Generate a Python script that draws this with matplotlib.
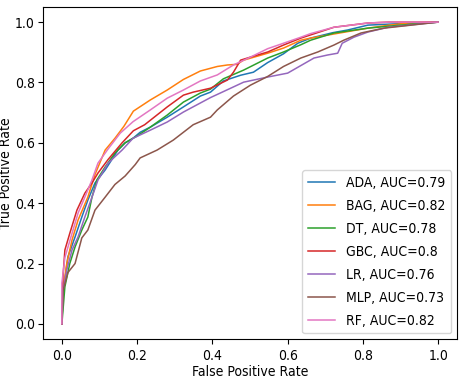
import matplotlib
matplotlib.use("Agg")
import matplotlib.pyplot as plt

plt.rcParams["font.family"] = ["DejaVu Sans"]
plt.rcParams["font.stretch"] = "condensed"

labels = ["ADA, AUC=0.79", "BAG, AUC=0.82", "DT, AUC=0.78", "GBC, AUC=0.8",
          "LR, AUC=0.76", "MLP, AUC=0.73", "RF, AUC=0.82"]
colors = ["#1f77b4", "#ff7f0e", "#2ca02c", "#d62728", "#9467bd", "#8c564b", "#e377c2"]

ada_fpr = [0, 0.003, 0.016, 0.035, 0.053, 0.069, 0.088, 0.115, 0.149, 0.168, 0.189, 0.208, 0.235, 0.28, 0.323, 0.368, 0.395, 0.429, 0.475, 0.509, 0.547, 0.589, 0.627, 0.661, 0.72, 0.76, 0.813, 0.9, 1.0]
ada_tpr = [0, 0.10, 0.222, 0.288, 0.354, 0.41, 0.467, 0.51, 0.576, 0.60, 0.615, 0.635, 0.652, 0.685, 0.719, 0.755, 0.768, 0.805, 0.824, 0.834, 0.866, 0.895, 0.93, 0.947, 0.965, 0.974, 0.99, 0.995, 1.0]

bag_fpr = [0, 0.003, 0.013, 0.027, 0.043, 0.069, 0.088, 0.115, 0.141, 0.165, 0.19, 0.235, 0.28, 0.323, 0.368, 0.413, 0.44, 0.465, 0.483, 0.547, 0.589, 0.635, 0.661, 0.72, 0.813, 0.87, 0.92, 1.0]
bag_tpr = [0, 0.113, 0.2, 0.278, 0.344, 0.42, 0.495, 0.576, 0.615, 0.655, 0.705, 0.742, 0.775, 0.81, 0.838, 0.853, 0.858, 0.860, 0.874, 0.897, 0.914, 0.94, 0.947, 0.96, 0.98, 0.99, 0.997, 1.0]

dt_fpr = [0, 0.008, 0.021, 0.035, 0.053, 0.069, 0.08, 0.093, 0.115, 0.141, 0.168, 0.203, 0.235, 0.28, 0.323, 0.368, 0.395, 0.429, 0.483, 0.547, 0.589, 0.635, 0.661, 0.723, 0.813, 0.9, 1.0]
dt_tpr = [0, 0.123, 0.2, 0.255, 0.311, 0.354, 0.42, 0.477, 0.52, 0.566, 0.60, 0.625, 0.652, 0.692, 0.735, 0.765, 0.778, 0.812, 0.841, 0.881, 0.901, 0.925, 0.94, 0.964, 0.98, 0.99, 1.0]

gbc_fpr = [0, 0.003, 0.008, 0.021, 0.04, 0.061, 0.08, 0.096, 0.123, 0.16, 0.19, 0.22, 0.28, 0.323, 0.349, 0.395, 0.44, 0.456, 0.475, 0.501, 0.547, 0.589, 0.635, 0.723, 0.813, 0.87, 1.0]
gbc_tpr = [0, 0.156, 0.245, 0.3, 0.377, 0.433, 0.467, 0.5, 0.545, 0.60, 0.64, 0.66, 0.719, 0.758, 0.768, 0.781, 0.808, 0.834, 0.874, 0.884, 0.901, 0.924, 0.947, 0.983, 0.997, 1.0, 1.0]

lr_fpr = [0, 0.003, 0.013, 0.027, 0.043, 0.061, 0.08, 0.096, 0.123, 0.16, 0.189, 0.235, 0.28, 0.323, 0.368, 0.395, 0.421, 0.483, 0.547, 0.6, 0.635, 0.67, 0.706, 0.733, 0.745, 0.776, 0.813, 0.867, 1.0]
lr_tpr = [0, 0.11, 0.178, 0.245, 0.288, 0.354, 0.42, 0.477, 0.533, 0.576, 0.615, 0.642, 0.669, 0.702, 0.732, 0.750, 0.765, 0.801, 0.818, 0.831, 0.856, 0.881, 0.891, 0.897, 0.930, 0.950, 0.967, 0.983, 1.0]

mlp_fpr = [0, 0.003, 0.016, 0.035, 0.053, 0.069, 0.088, 0.115, 0.141, 0.168, 0.195, 0.208, 0.253, 0.296, 0.349, 0.395, 0.413, 0.456, 0.501, 0.547, 0.589, 0.635, 0.68, 0.723, 0.749, 0.795, 0.856, 0.928, 1.0]
mlp_tpr = [0, 0.11, 0.17, 0.2, 0.285, 0.311, 0.377, 0.42, 0.462, 0.49, 0.528, 0.55, 0.576, 0.609, 0.66, 0.685, 0.709, 0.755, 0.791, 0.82, 0.853, 0.881, 0.901, 0.924, 0.94, 0.964, 0.98, 0.99, 1.0]

rf_fpr = [0, 0.0, 0.008, 0.027, 0.043, 0.061, 0.08, 0.096, 0.123, 0.155, 0.189, 0.235, 0.28, 0.323, 0.368, 0.413, 0.456, 0.501, 0.547, 0.589, 0.635, 0.661, 0.723, 0.813, 0.87, 1.0]
rf_tpr = [0, 0.135, 0.22, 0.3, 0.367, 0.42, 0.477, 0.533, 0.58, 0.632, 0.670, 0.709, 0.748, 0.775, 0.805, 0.825, 0.858, 0.884, 0.912, 0.930, 0.950, 0.962, 0.983, 0.997, 1.0, 1.0]

series = [(ada_fpr, ada_tpr), (bag_fpr, bag_tpr), (dt_fpr, dt_tpr), (gbc_fpr, gbc_tpr),
          (lr_fpr, lr_tpr), (mlp_fpr, mlp_tpr), (rf_fpr, rf_tpr)]

fig = plt.figure(figsize=(4.63, 3.82), dpi=100)
ax = fig.add_axes([0.093, 0.1126, 0.894, 0.869])
for (x, y), lab, c in zip(series, labels, colors):
    ax.plot(x, y, color=c, lw=1.1, label=lab)
ax.set_xlabel("False Positive Rate", labelpad=2)
ax.set_ylabel("True Positive Rate")
ax.yaxis.set_label_coords(-0.072, 0.5)
ax.set_xticks([0.0, 0.2, 0.4, 0.6, 0.8, 1.0])
ax.set_yticks([0.0, 0.2, 0.4, 0.6, 0.8, 1.0])
ax.tick_params(axis="y", pad=2.5)
ax.legend(loc="lower right", labelspacing=0.65, borderaxespad=0.4)
fig.savefig("out.png", dpi=100)
